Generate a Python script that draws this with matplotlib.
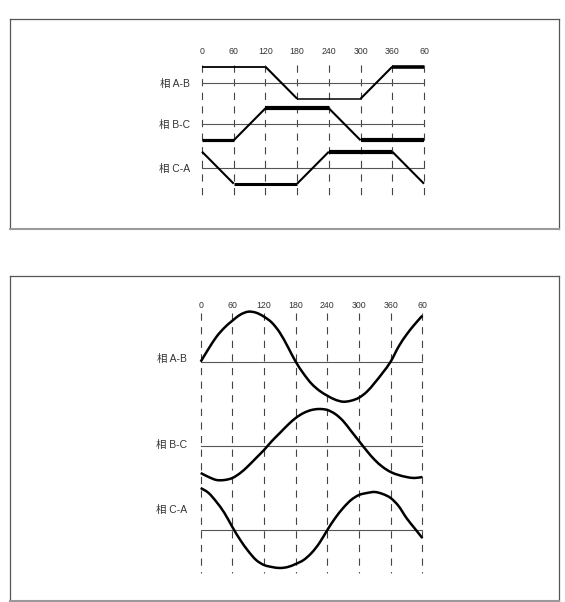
import matplotlib
matplotlib.use("Agg")
import matplotlib.pyplot as plt
from matplotlib.path import Path
from matplotlib.patches import PathPatch
import numpy as np

# ---------------- data ----------------
tick_degrees = [0, 60, 120, 180, 240, 300, 360, 420]
tick_labels = ["0", "60", "120", "180", "240", "300", "360", "60"]
phase_labels = ["相 A-B", "相 B-C", "相 C-A"]

# top panel: trapezoidal waveforms (breakpoints in degrees, level +1/-1)
trap_deg_ab = [0, 120, 180, 300, 360, 420]
trap_val_ab = [1, 1, -1, -1, 1, 1]
trap_deg_bc = [0, 60, 120, 240, 300, 420]
trap_val_bc = [-1, -1, 1, 1, -1, -1]
trap_deg_ca = [0, 60, 180, 240, 360, 420]
trap_val_ca = [1, -1, -1, 1, 1, -1]
# segment line weights (per segment, pt)
trap_lw_ab = [1.3, 1.5, 1.1, 1.5, 2.6]
trap_lw_bc = [2.3, 1.5, 3.0, 1.5, 3.0]
trap_lw_ca = [1.5, 2.2, 1.5, 3.0, 1.5]

# bottom panel: sinusoidal waveforms sampled every 15 degrees
sin_deg = list(range(0, 421, 15))
sin_ab = [0, 13, 25, 34, 41, 47, 50, 49, 45, 39, 29, 15, 0, -12, -22, -29,
          -34, -38, -40, -39, -36, -30, -21, -11, 0, 15, 27, 37, 46]
sin_bc = [-27, -31, -34, -34, -32, -27, -20, -12, -4, 5, 13, 21, 28, 33, 36,
          37, 36, 32, 25, 15, 5, -5, -14, -21, -26, -29, -31, -32, -31]
sin_ca = [42, 37, 28, 17, 3, -10, -21, -30, -35, -37, -38, -37, -34, -30, -23,
          -13, 0, 12, 22, 30, 35, 37, 38, 36, 32, 24, 12, 2, -8]

# ---------------- layout ----------------
W, H = 565, 602
fig = plt.figure(figsize=(W / 100, H / 100), dpi=100)
plt.rcParams['lines.scale_dashes'] = False
FONT = ['Liberation Sans', 'Noto Sans CJK SC', 'DejaVu Sans']


def make_axes(box, x0px, pxdeg):
    l, t, r, b = box
    ax = fig.add_axes([l / W, 1 - b / H, (r - l) / W, (b - t) / H])
    ax.set_xlim((l - x0px) / pxdeg, (r - x0px) / pxdeg)
    ax.set_ylim(b, t)
    ax.set_xticks([])
    ax.set_yticks([])
    for s in ['top', 'left', 'right']:
        ax.spines[s].set_color('#555555')
        ax.spines[s].set_linewidth(0.9)
    ax.spines['bottom'].set_color('#9a9a9a')
    ax.spines['bottom'].set_linewidth(1.5)
    return ax


def draw_grid(ax, label_y, ytop, ybot):
    for d, lab in zip(tick_degrees, tick_labels):
        ax.plot([d, d], [ytop, ybot], color='#444444', lw=0.8,
                dashes=(5.2, 4.6), zorder=1)
        ax.text(d, label_y, lab, ha='center', va='center', fontsize=6.3,
                color='#333333', family=FONT)


def smooth_path(xs, ys):
    """Catmull-Rom spline through the points, expressed as cubic Beziers."""
    P = np.column_stack([xs, ys]).astype(float)
    n = len(P)
    verts = [P[0]]
    codes = [Path.MOVETO]
    for i in range(n - 1):
        p0 = P[i - 1] if i > 0 else P[i]
        p1, p2 = P[i], P[i + 1]
        p3 = P[i + 2] if i + 2 < n else P[i + 1]
        c1 = p1 + (p2 - p0) / 6.0
        c2 = p2 - (p3 - p1) / 6.0
        verts += [c1, c2, p2]
        codes += [Path.CURVE4] * 3
    return Path(verts, codes)


# ---- top panel ----
ax1 = make_axes((10, 19.3, 558.7, 229), 202.0, 222.0 / 420)
draw_grid(ax1, 51.5, 65, 198)
top_base = [82.7, 124.3, 167.7]
top_amp = 16.0
traps = [(trap_deg_ab, trap_val_ab, trap_lw_ab),
         (trap_deg_bc, trap_val_bc, trap_lw_bc),
         (trap_deg_ca, trap_val_ca, trap_lw_ca)]
for base, (dg, vl, lws), lab in zip(top_base, traps, phase_labels):
    ax1.plot([0, 420], [base, base], color='#555555', lw=0.8, zorder=2)
    y = [base - v * top_amp for v in vl]
    for i in range(len(dg) - 1):
        ax1.plot(dg[i:i + 2], y[i:i + 2], color='black', lw=lws[i],
                 solid_capstyle='butt', zorder=3)
    ax1.text(-22, base + 1, lab, ha='right', va='center', fontsize=7.5,
             color='#333333', family=FONT)

# ---- bottom panel ----
ax2 = make_axes((10, 275.7, 558.7, 601), 200.7, 221.6 / 420)
draw_grid(ax2, 305, 313, 573)
bot_base = [361.7, 446.0, 530.0]
bot_label_y = [359, 445, 510]
for base, vals, lab, ly in zip(bot_base, [sin_ab, sin_bc, sin_ca],
                               phase_labels, bot_label_y):
    ax2.plot([0, 420], [base, base], color='#555555', lw=0.8, zorder=2)
    path = smooth_path(sin_deg, [base - v for v in vals])
    ax2.add_patch(PathPatch(path, facecolor='none', edgecolor='black',
                            lw=1.8, joinstyle='round', zorder=3))
    ax2.text(-26, ly, lab, ha='right', va='center', fontsize=7.5,
             color='#333333', family=FONT)

fig.savefig('out.png', dpi=100)
